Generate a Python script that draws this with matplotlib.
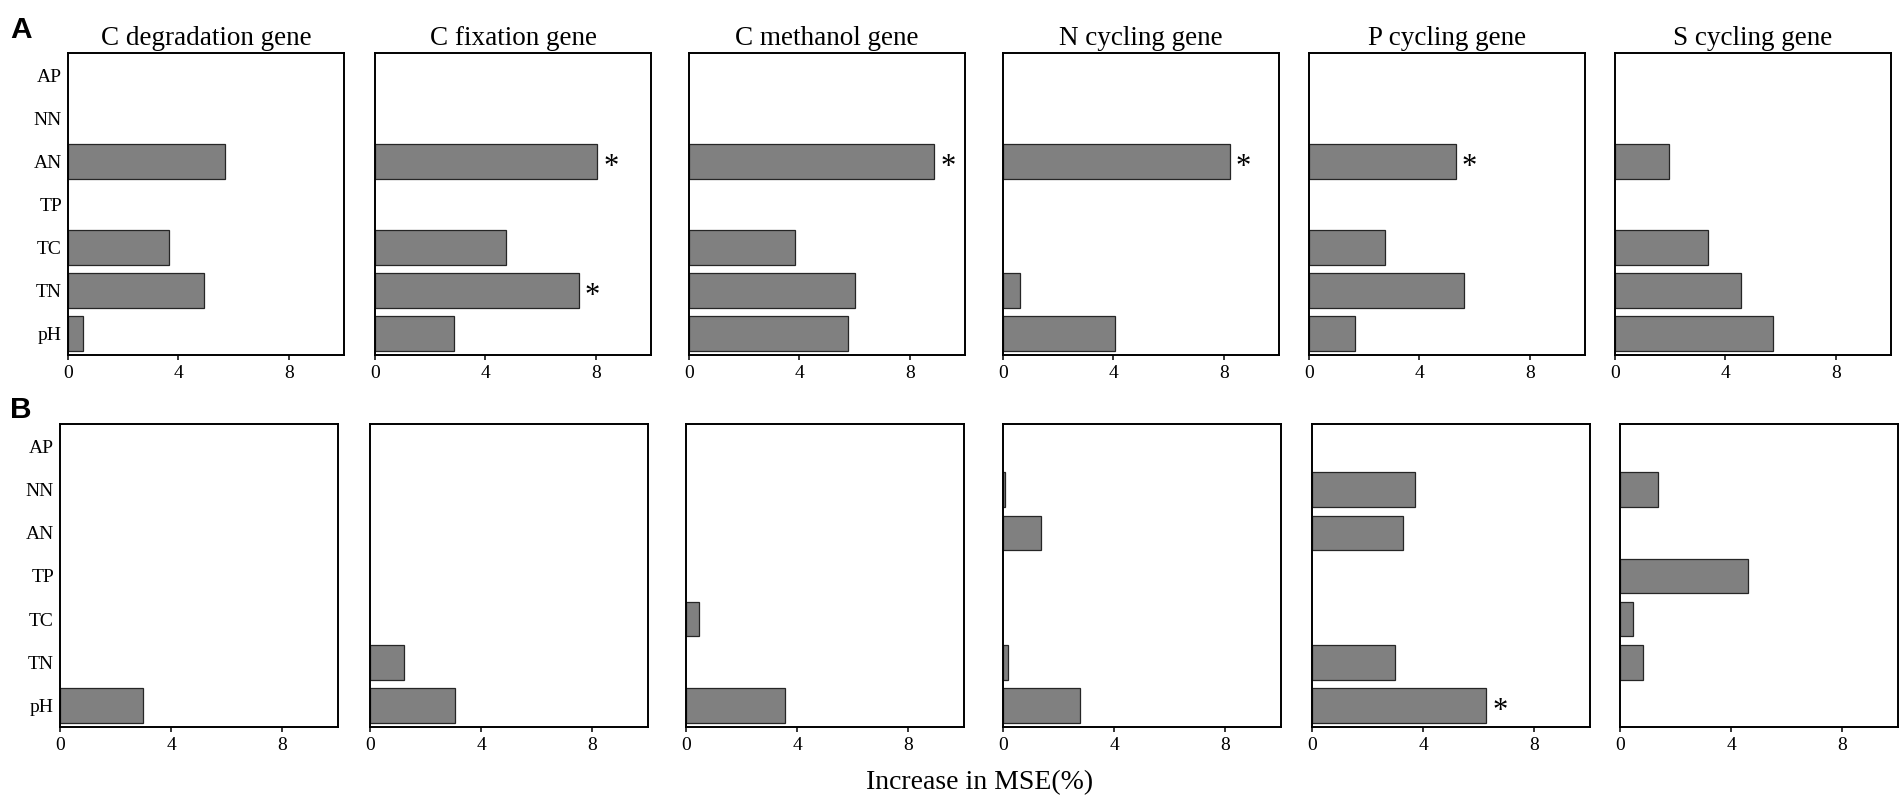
import numpy as np
import matplotlib
matplotlib.use("Agg")
import matplotlib.pyplot as plt

nan = np.nan

# categories listed top -> bottom
categories = ["AP", "NN", "AN", "TP", "TC", "TN", "pH"]
panel_titles = ["C degradation gene", "C fixation gene", "C methanol gene",
                "N cycling gene", "P cycling gene", "S cycling gene"]
xticks = [0, 4, 8]

# Row A values (order: AP, NN, AN, TP, TC, TN, pH)
a_c_degradation = [nan, nan, 5.68, nan, 3.66, 4.92, 0.53]
a_c_fixation    = [nan, nan, 8.06, nan, 4.73, 7.38, 2.85]
a_c_methanol    = [nan, nan, 8.87, nan, 3.84, 6.00, 5.76]
a_n_cycling     = [nan, nan, 8.21, nan, nan, 0.62, 4.07]
a_p_cycling     = [nan, nan, 5.31, nan, 2.76, 5.61, 1.65]
a_s_cycling     = [nan, nan, 1.96, nan, 3.37, 4.57, 5.73]

# Row B values
b_c_degradation = [nan, nan, nan, nan, nan, nan, 2.97]
b_c_fixation    = [nan, nan, nan, nan, nan, 1.22, 3.05]
b_c_methanol    = [nan, nan, nan, nan, 0.48, nan, 3.57]
b_n_cycling     = [nan, 0.06, 1.35, nan, nan, 0.18, 2.78]
b_p_cycling     = [nan, 3.69, 3.26, nan, nan, 2.97, 6.26]
b_s_cycling     = [nan, 1.37, nan, 4.60, 0.47, 0.83, nan]

# significance markers (category names with *)
a_sig = [[], ["AN", "TN"], ["AN"], ["AN"], ["AN"], []]
b_sig = [[], [], [], [], ["pH"], []]

rowA = [a_c_degradation, a_c_fixation, a_c_methanol, a_n_cycling, a_p_cycling, a_s_cycling]
rowB = [b_c_degradation, b_c_fixation, b_c_methanol, b_n_cycling, b_p_cycling, b_s_cycling]

W, H = 1904, 800
fig = plt.figure(figsize=(W / 100, H / 100), dpi=100)
plt.rcParams["font.family"] = ["Liberation Serif", "DejaVu Serif"]

# layout in pixels: (left, width) per panel, (top, bottom) per row
rowA_left = [68, 375, 689, 1003, 1309, 1615]
rowA_w = 276
rowB_left = [60, 370, 686, 1003, 1312, 1620]
rowB_w = 278
rowA_tb = (53, 355)
rowB_tb = (424, 727)

ypos = np.arange(len(categories))[::-1]  # AP at top

def draw_panel(ax, vals, sig, title=None, show_y=False):
    vals = np.array(vals, dtype=float)
    mask = ~np.isnan(vals)
    ax.barh(ypos[mask], vals[mask], height=0.8, color="#808080",
            edgecolor="#262626", linewidth=0.9)
    ax.set_xlim(0, 10)
    ax.set_ylim(-0.5, 6.52)
    ax.set_xticks(xticks)
    ax.set_xticklabels([str(t) for t in xticks])
    ax.set_yticks(ypos)
    ax.set_yticklabels(categories if show_y else [])
    ax.tick_params(axis="x", direction="out", length=3.6, width=1.1,
                   labelsize=14, pad=3.8)
    ax.tick_params(axis="y", length=0, labelsize=14, pad=4.3)
    for s in ax.spines.values():
        s.set_linewidth(1.4)
        s.set_color("black")
    for c in sig:
        i = categories.index(c)
        ax.annotate("*", xy=(vals[i], ypos[i]), xytext=(10, -9.8),
                    textcoords="offset points", ha="center", va="baseline",
                    fontsize=22)
    if title:
        ax.set_title(title, fontsize=19.5, pad=6)

for j in range(6):
    l = rowA_left[j]
    ax = fig.add_axes([l / W, (H - rowA_tb[1]) / H, rowA_w / W,
                       (rowA_tb[1] - rowA_tb[0]) / H])
    draw_panel(ax, rowA[j], a_sig[j], title=panel_titles[j], show_y=(j == 0))
    l = rowB_left[j]
    ax = fig.add_axes([l / W, (H - rowB_tb[1]) / H, rowB_w / W,
                       (rowB_tb[1] - rowB_tb[0]) / H])
    draw_panel(ax, rowB[j], b_sig[j], show_y=(j == 0))

fig.text(10 / W, (H - 38) / H, "A", fontsize=21.5, fontweight="bold",
         family="Liberation Sans", ha="left", va="baseline")
fig.text(10 / W, (H - 418) / H, "B", fontsize=21.5, fontweight="bold",
         family="Liberation Sans", ha="left", va="baseline")
fig.text(980 / W, (H - 789) / H, "Increase in MSE(%)", fontsize=20,
         ha="center", va="baseline")

fig.savefig("out.png", dpi=100)
